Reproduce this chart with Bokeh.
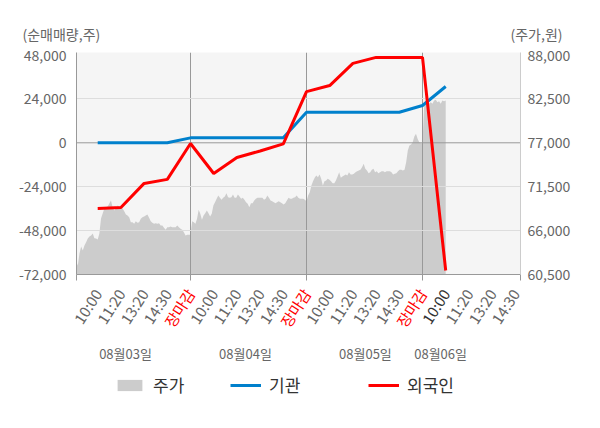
import math
from bokeh.plotting import figure
from bokeh.layouts import column
from bokeh.models import (Range1d, LinearAxis, FixedTicker, NumeralTickFormatter,
                          Span, Legend, LegendItem)
from bokeh.core.properties import value
from bokeh.embed import file_html
from bokeh.resources import INLINE

FONT = "Noto Sans CJK KR"
NAN = float("nan")

# ---------------- data ----------------
day_labels = ["08월03일", "08월04일", "08월05일", "08월06일"]
day_label_x = [2.2, 7.37, 12.54, 15.78]
tick_labels = ["10:00", "11:20", "13:20", "14:30", "장마감",
               "10:00", "11:20", "13:20", "14:30", "장마감",
               "10:00", "11:20", "13:20", "14:30", "장마감",
               "10:00", "11:20", "13:20", "14:30"]
tick_pos = list(range(1, 20))

flow_x = list(range(1, 17))
inst = [0, 0, 0, 0, 2700, 2700, 2700, 2700, 2700,
        16700, 16700, 16700, 16700, 16700, 20400, 30800]          # 기관
foreign = [-35900, -35400, -22200, -20000, -400, -16800, -8000, -4500, -550,
           28000, 31300, 43400, 46700, 46700, 46700, -69800]      # 외국인

price_d1 = [62160, 61630, 63130, 64010, 63500, 64130, 64550, 65010, 65260, 65380,
            65640, 65050, 65010, 64880, 65640, 67510, 68140, 68770, 68930, 69020,
            69390, 69770, 68930, 68520, 68770, 69140, 69020, 68930, 68770, 68430,
            68020, 67890, 67680, 67050, 67050, 66850, 67180, 66980, 67050, 67480,
            67680, 67770, 67890, 68020, 67600, 67180, 66980, 66850, 66930, 66850,
            66930, 66640, 66640, 66350, 66100, 66420, 66420, 66510, 66420, 66420,
            66420, 66640, 66420, 66220, 66100, 65800, 65380, 65470, 65470, 65470]
price_d2 = [67180, 67050, 66850, 67480, 68600, 68100, 67350, 67890, 68180, 68520,
            68180, 67770, 68100, 69140, 69560, 69980, 70400, 70110, 69860, 70110,
            70270, 70690, 70180, 70110, 70180, 70520, 70110, 70110, 70520, 70270,
            69980, 70110, 69860, 69560, 69360, 68930, 69430, 69430, 69770, 69980,
            70110, 70110, 70110, 70110, 69860, 69980, 70400, 70110, 69770, 69680,
            69560, 69430, 69560, 69680, 69560, 69430, 69270, 69430, 69770, 70110,
            69980, 69980, 70110, 70180, 70400, 70110, 69980, 69980, 69980, 69860,
            69680]
price_d3 = [70400, 70810, 71650, 72190, 72610, 72900, 72690, 73030, 72490, 71650,
            72190, 72280, 72490, 72360, 72190, 71940, 71940, 72280, 72780, 73320,
            72610, 72780, 72900, 73030, 72900, 73320, 73030, 73030, 73120, 73320,
            73440, 73530, 73620, 73940, 74370, 73740, 73530, 73190, 73320, 73620,
            73740, 73320, 73440, 73190, 73320, 73440, 73440, 73320, 73440, 73440,
            73440, 73320, 73030, 73120, 73190, 73440, 73620, 73620, 73530, 73620,
            74570, 76040, 76660, 76790, 77080, 77790, 78130, 77500, 77080, 76950,
            76950]
price_d4 = [81670, 81800, 81920, 81920, 82090, 81890, 82300, 82390, 82090, 82210,
            81890, 82300, 82210, 82300]
left_ticks = [-72000, -48000, -24000, 0, 24000, 48000]
right_ticks = [60500, 66000, 71500, 77000, 82500, 88000]

# ---------------- layout ----------------
W = 600
TOP_H = 44                       # title strip
ML, MR, MT, MB = 76, 80, 8, 10   # main figure borders
FW, FH = W - ML - MR, 222
MAIN_H = MT + FH + MB
BOT_H = 428 - TOP_H - MAIN_H     # label / legend strip
X0, X1 = 0.086, 19.224
Y0, Y1 = -72000, 49370
P0 = 60500
P1 = 77000 + Y1 * 5500 / 24000
PX_PER_X = FW / (X1 - X0)


def blank(h, xr, yr):
    f = figure(width=W, height=h, output_backend="svg", toolbar_location=None,
               x_range=xr, y_range=yr, min_border=0, frame_align=False,
               x_axis_location=None, y_axis_location=None)
    f.grid.visible = False
    f.outline_line_color = None
    f.background_fill_color = "white"
    f.border_fill_color = "white"
    return f


# ---- title strip ----
top = blank(TOP_H, Range1d(0, W), Range1d(0, TOP_H))
top.text(x=[22], y=[TOP_H - 33], text=["(순매매량,주)"], text_align="left",
         text_baseline="middle", text_font=value(FONT), text_font_size="14px",
         text_color="#666666")
top.text(x=[562], y=[TOP_H - 33], text=["(주가,원)"], text_align="right",
         text_baseline="middle", text_font=value(FONT), text_font_size="14px",
         text_color="#666666")

# ---- main chart ----
p = figure(width=W, height=MAIN_H, output_backend="svg", toolbar_location=None,
           x_range=Range1d(X0, X1), y_range=Range1d(Y0, Y1), frame_align=False,
           min_border_left=ML, min_border_right=MR, min_border_top=MT,
           min_border_bottom=MB)
p.extra_y_ranges = {"price": Range1d(P0, P1)}
p.background_fill_color = "#f5f5f5"
p.border_fill_color = "white"
p.outline_line_color = None

px_all, py_all = [], []
for d, vals in enumerate([price_d1, price_d2, price_d3]):
    step = 5 / len(vals)
    for i, v in enumerate(vals):
        px_all.append(d * 5 + (i + 1) * step)
        py_all.append(v)
for i, v in enumerate(price_d4):
    px_all.append(15 + (i + 1) * 5 / 70)
    py_all.append(v)
p.varea(x=px_all, y1=[P0] * len(px_all), y2=py_all, fill_color="#cccccc",
        y_range_name="price", level="image")
p.line(flow_x, inst, line_color="#0080cc", line_width=3)
p.line(flow_x, foreign, line_color="#ff0000", line_width=3)

ya = p.yaxis[0]
ya.ticker = FixedTicker(ticks=left_ticks)
ya.formatter = NumeralTickFormatter(format="0,0")
ya.major_tick_out = 0
ya.major_tick_in = 0
ya.minor_tick_out = 0
ya.minor_tick_in = 0
ya.axis_line_color = "#999999"
ya.major_label_text_font = FONT
ya.major_label_text_font_size = "14px"
ya.major_label_text_color = "#666666"
ya.major_label_standoff = 10

ra = LinearAxis(y_range_name="price", ticker=FixedTicker(ticks=right_ticks),
                formatter=NumeralTickFormatter(format="0,0"))
ra.major_tick_out = 0
ra.major_tick_in = 0
ra.minor_tick_out = 0
ra.minor_tick_in = 0
ra.axis_line_color = "#cccccc"
ra.major_label_text_font = FONT
ra.major_label_text_font_size = "14px"
ra.major_label_text_color = "#666666"
ra.major_label_standoff = 7
p.add_layout(ra, "right")

xa = p.xaxis[0]
x_axis_ticks = [X0, 5, 10, 15, X1]
xa.ticker = FixedTicker(ticks=x_axis_ticks)
xa.major_label_overrides = {t: "" for t in x_axis_ticks}
xa.major_tick_out = 6
xa.major_tick_in = 0
xa.minor_tick_out = 0
xa.minor_tick_in = 0
xa.major_tick_line_color = "#999999"
xa.axis_line_color = "#999999"
xa.major_label_standoff = 0
xa.major_label_text_font_size = "0px"

p.ygrid.ticker = FixedTicker(ticks=[-48000, -24000, 24000])
p.ygrid.grid_line_color = "#dddddd"
p.xgrid.ticker = FixedTicker(ticks=[5, 10, 15])
p.xgrid.grid_line_color = "#999999"
p.add_layout(Span(location=0, dimension="width", line_color="#999999",
                  line_width=1, level="underlay"))

# ---- label / legend strip (same x scale as the main chart) ----
bx0 = X0 - ML / PX_PER_X
bx1 = X0 + (W - ML) / PX_PER_X
bot = blank(BOT_H, Range1d(bx0, bx1), Range1d(0, BOT_H))


def y_of(page_y):
    return 428 - page_y


cols = []
for i, lab in enumerate(tick_labels):
    if lab == "장마감":
        cols.append("#ff0000")
    elif i == 15:
        cols.append("#333333")
    else:
        cols.append("#666666")
bot.text(x=tick_pos, y=[y_of(290)] * len(tick_pos), text=tick_labels,
         angle=math.radians(57), text_align="right", text_baseline="middle",
         text_font=value(FONT), text_font_size="15px", text_color=cols)
bot.text(x=day_label_x, y=[y_of(353)] * len(day_label_x), text=day_labels,
         text_align="center", text_baseline="middle", text_font=value(FONT),
         text_font_size="13px", text_color="#666666")

# legend keys (proxies with no visible data)
lg_price = bot.varea(x=[NAN], y1=[NAN], y2=[NAN], fill_color="#cccccc")
lg_inst = bot.line(x=[NAN], y=[NAN], line_color="#0080cc", line_width=3)
lg_for = bot.line(x=[NAN], y=[NAN], line_color="#ff0000", line_width=3)
for lab, rend, xo in [("주가", lg_price, 114), ("기관", lg_inst, 230), ("외국인", lg_for, 368)]:
    lg = Legend(items=[LegendItem(label=lab, renderers=[rend])],
                location=(xo, y_of(385) - 12),
                padding=0, margin=0, spacing=0, border_line_color=None,
                background_fill_alpha=0, label_text_font=FONT,
                label_text_font_size="17px", label_text_color="#333333",
                label_standoff=8, glyph_width=31, glyph_height=14,
                label_height=24)
    bot.add_layout(lg, "center")

layout = column(top, p, bot, spacing=0)
open("out.html", "w").write(file_html(layout, INLINE))
